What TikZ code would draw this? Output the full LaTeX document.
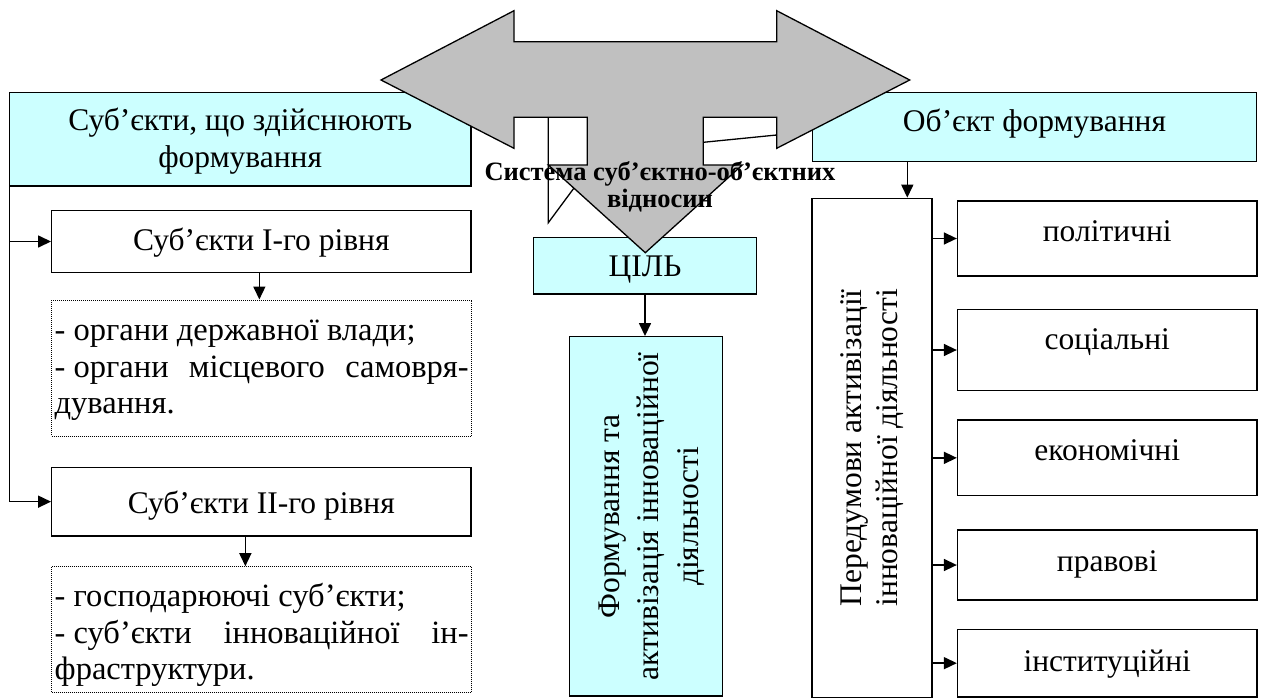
\documentclass[tikz,border=0pt]{standalone}
\usepackage{fontspec}
\setmainfont{Liberation Serif}
\usetikzlibrary{arrows.meta}
\definecolor{lcyan}{HTML}{CCFFFF}
\definecolor{agray}{HTML}{C0C0C0}
\newcommand\rb[2]{\raisebox{#1pt}[0pt][0pt]{#2}}
\begin{document}
\begin{tikzpicture}[x=1pt,y=-1pt,
  box/.style={draw, line width=1.3pt, inner sep=0pt, font=\fontsize{31.5}{36.3}\selectfont},
  cbox/.style={box, fill=lcyan},
  dbox/.style={draw, line width=1pt, dash pattern=on 1pt off 1pt, inner sep=0pt, font=\fontsize{32.5}{36.5}\selectfont},
  arr/.style={line width=1.5pt, -{Triangle[length=13pt,width=12pt]}},
]
\useasboundingbox (0,0) rectangle (1263,699);

% left side
\node[cbox, minimum width=461.7pt, minimum height=93.7pt] (subj) at (240.2,139.2) {\rb{9.2}{\fontsize{31.5}{37.3}\selectfont\begin{tabular}[t]{@{}c@{}}Суб’єкти, що здійснюють\\формування\end{tabular}}};
\node[box, minimum width=419.3pt, minimum height=61.6pt] (s1) at (261.35,241.5) {\rb{-9.2}{Суб’єкти I-го рівня}};
\node[dbox, minimum width=420pt, minimum height=136pt] (d1) at (261.7,368) {\rb{27.3}{\parbox[t]{414pt}{- органи державної влади;\\\makebox[414pt]{-~органи\hfill місцевого\hfill самовря-}\\дування.}}};
\node[box, minimum width=419.3pt, minimum height=68.7pt] (s2) at (261.35,501.65) {\rb{-11.4}{Суб’єкти II-го рівня}};
\node[dbox, minimum width=420pt, minimum height=125.6pt] (d2) at (261.7,629.5) {\rb{22.8}{\parbox[t]{414pt}{- господарюючі суб’єкти;\\\makebox[414pt]{-~суб’єкти\hfill інноваційної\hfill ін-}\\фраструктури.}}};

% centre
\node[cbox, minimum width=223.4pt, minimum height=56.7pt] (goal) at (645,265.65) {\rb{-11}{ЦІЛЬ}};
\node[cbox, minimum width=153.4pt, minimum height=359.3pt] (rot1) at (646,516.35) {\hspace{10pt}\rotatebox{90}{\fontsize{31.5}{39.5}\selectfont\begin{tabular}{@{}c@{}}Формування та\\активізація інноваційної\\діяльності\end{tabular}}};

% right side
\node[cbox, minimum width=444.4pt, minimum height=69.4pt] (obj) at (1034.5,127) {\rb{-4.7}{Об’єкт формування}};
\node[box, minimum width=120pt, minimum height=499pt] (rot2) at (872,447.8) {\rotatebox{90}{\fontsize{31.5}{36.7}\selectfont\begin{tabular}{@{}c@{}}Передумови активізації\\інноваційної діяльності\end{tabular}}};
\node[box, minimum width=299.5pt, minimum height=75pt] (pol) at (1107.25,238.5) {\rb{-3.2}{політичні}};
\node[box, minimum width=299.5pt, minimum height=81.4pt] (soc) at (1107.25,350) {\rb{0.7}{соціальні}};
\node[box, minimum width=299.5pt, minimum height=75.7pt] (eko) at (1107.25,457.85) {\rb{-2.2}{економічні}};
\node[box, minimum width=299.5pt, minimum height=70pt] (prav) at (1107.25,565) {\rb{-6.7}{правові}};
\node[box, minimum width=299.5pt, minimum height=67.7pt] (inst) at (1107.25,663.15) {\rb{-8.5}{інституційні}};

% connectors
\draw[arr] ([xshift=0.7pt]subj.south west) |- (s1.west);
\draw[arr] ([xshift=0.7pt]subj.south west) |- (s2.west);
\draw[arr] ([xshift=-2pt]s1.south) -- ([xshift=-2pt]s1.south |- d1.north);
\draw[arr] ([xshift=-16pt]s2.south) -- ([xshift=-16pt]s2.south |- d2.north);
\draw[arr] (goal.south) -- (goal.south |- rot1.north);
\coordinate (r2top) at ([xshift=35.3pt]rot2.north);
\draw[arr] (obj.south -| r2top) -- (r2top);
\foreach \n in {pol,soc,eko,prav,inst}
  \draw[arr] (rot2.east |- \n.west) -- (\n.west);

% three-way gray arrow
\draw[fill=agray, line width=1.3pt, line join=miter]
  (381,80) -- (514,10.7) -- (514,41.7) -- (776.7,41.7) -- (776.7,10.7) -- (909.7,80)
  -- (776.7,148.3) -- (776.7,117.3) -- (703.3,117.3) -- (703.3,165) -- (742.3,165)
  -- (645.3,252.7) -- (548.3,165) -- (587.3,165) -- (587.3,117.3) -- (514,117.3)
  -- (514,148.3) -- cycle;
\draw[line width=1.3pt] (548.3,117.3) -- (548.3,222.7) -- (574,188);
\draw[line width=1.3pt] (703.3,142.3) -- (776.7,135);

\node[font=\fontsize{26.5}{27.3}\selectfont\bfseries, anchor=base, inner sep=0pt] (sys) at (660,180) {\begin{tabular}[t]{@{}c@{}}Система суб’єктно-об’єктних\\відносин\end{tabular}};
\end{tikzpicture}
\end{document}
